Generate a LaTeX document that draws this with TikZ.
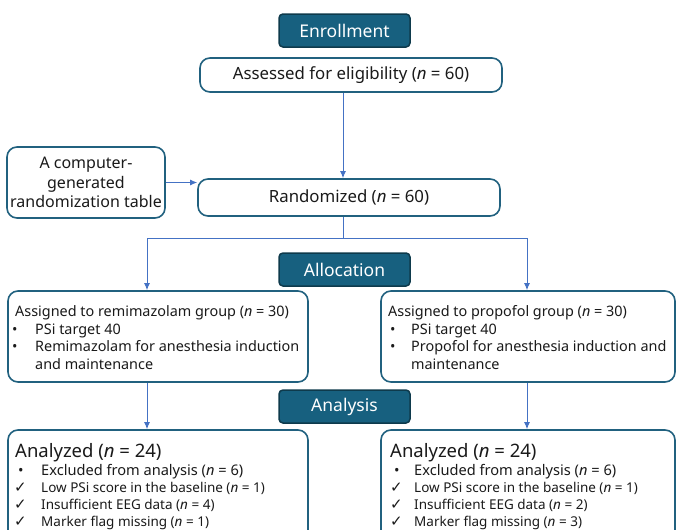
\documentclass[tikz,border=0pt]{standalone}
\usepackage{fontspec}
\setmainfont{Noto Sans}
\newfontfamily\sym{DejaVu Sans}
\usetikzlibrary{arrows.meta}
\definecolor{hdrfill}{HTML}{17607F}
\definecolor{hdrborder}{HTML}{0E3A4C}
\definecolor{boxc}{HTML}{21617F}
\definecolor{arrc}{HTML}{4472C4}
\definecolor{txt}{HTML}{1A1A1A}
\begin{document}
\begin{tikzpicture}[x=1pt,y=-1pt,
  hdr/.style={draw=hdrborder, fill=hdrfill, rounded corners=4pt, line width=1.5pt, text=white,
    font=\fontsize{17.5}{20}\selectfont, minimum width=131pt, minimum height=33pt, inner sep=0pt},
  box/.style={draw=boxc, line width=1.6pt, rounded corners=10pt, fill=white, inner sep=0pt},
  arr/.style={draw=arrc, line width=1pt, -{Latex[length=7pt,width=6pt]}},
  ln/.style={draw=arrc, line width=1pt},
  tx/.style={anchor=base west, inner sep=0pt, text=txt, font=\fontsize{14.4}{17}\selectfont},
  tb/.style={anchor=base west, inner sep=0pt, text=txt, font=\fontsize{18.5}{21}\selectfont},
  tc/.style={anchor=base west, inner sep=0pt, text=txt, font=\fontsize{14.6}{17}\selectfont},
  ts/.style={anchor=base west, inner sep=0pt, text=txt, font=\fontsize{13.5}{16}\selectfont},
  ck/.style={anchor=base west, inner sep=0pt, text=txt, font=\sym\fontsize{15}{16}\selectfont},
  ]
\useasboundingbox (0,0) rectangle (678,530);

% headers
\node[hdr] (enr) at (344.5,30.5) {Enrollment};
\node[hdr] (alloc) at (344.5,269.5) {Allocation};
\node[hdr] (anal) at (344.5,406.5) {Analysis};

% boxes
\node[box, minimum width=302pt, minimum height=34pt, font=\fontsize{16.8}{20}\selectfont, text=txt] (assess) at (351,75) {Assessed for eligibility (\textit{n} = 60)};
\node[box, minimum width=302pt, minimum height=37pt, font=\fontsize{16.8}{20}\selectfont, text=txt] (rand) at (349,197.5) {Randomized (\textit{n} = 60)};
\node[box, minimum width=158pt, minimum height=71pt, align=center, font=\fontsize{16}{19.5}\selectfont, text=txt] (comp) at (86,182.5) {A computer-\\generated\\randomization table};

\node[box, minimum width=300pt, minimum height=91pt] (lassign) at (158,336.5) {};
\node[box, minimum width=294pt, minimum height=91pt] (rassign) at (528,336.5) {};
\node[box, minimum width=300pt, minimum height=110pt] (lanal) at (158,485) {};
\node[box, minimum width=294pt, minimum height=110pt] (ranal) at (528,485) {};

% connectors
\draw[arr] (assess.south -| 343,0) -- (rand.north -| 343,0);
\draw[arr] (comp.east) -- (rand.west |- comp.east);
\coordinate (split) at (343,238);
\coordinate (lsplit) at (147,238);
\coordinate (rsplit) at (527,238);
\draw[ln] (rand.south -| split) -- (split);
\draw[ln] (lsplit) -- (rsplit);
\draw[arr] (lsplit) -- (lassign.north -| lsplit);
\draw[arr] (rsplit) -- (rassign.north -| rsplit);
\draw[arr] (lassign.south -| lsplit) -- (lanal.north -| lsplit);
\draw[arr] (rassign.south -| rsplit) -- (ranal.north -| rsplit);

% left assign text
\node[tx] (la1) at (15,316) {Assigned to remimazolam group (\textit{n} = 30)};
\node[tx] (la2b) at (12,334) {•};
\node[tx] (la2) at (35,334) {PSi target 40};
\node[tx] (la3b) at (12,351) {•};
\node[tx] (la3) at (35,351) {Remimazolam for anesthesia induction};
\node[tx] (la4) at (35,369) {and maintenance};

% right assign text
\node[tx] (ra1) at (388,316) {Assigned to propofol group (\textit{n} = 30)};
\node[tx] (ra2b) at (390,334) {•};
\node[tx] (ra2) at (411,334) {PSi target 40};
\node[tx] (ra3b) at (390,351) {•};
\node[tx] (ra3) at (411,351) {Propofol for anesthesia induction and};
\node[tx] (ra4) at (411,369) {maintenance};

% left analysis text
\node[tb] (lb1) at (15,457) {Analyzed (\textit{n} = 24)};
\node[tc] (lb2b) at (18,475) {•};
\node[tc] (lb2) at (41,475) {Excluded from analysis (\textit{n} = 6)};
\node[ck] (lb3b) at (14,492) {✓};
\node[ts] (lb3) at (41,492) {Low PSi score in the baseline (\textit{n} = 1)};
\node[ck] (lb4b) at (14,509) {✓};
\node[ts] (lb4) at (41,509) {Insufficient EEG data (\textit{n} = 4)};
\node[ck] (lb5b) at (14,526) {✓};
\node[ts] (lb5) at (41,526) {Marker flag missing (\textit{n} = 1)};

% right analysis text
\node[tb] (rb1) at (390,457) {Analyzed (\textit{n} = 24)};
\node[tc] (rb2b) at (394,475) {•};
\node[tc] (rb2) at (414,475) {Excluded from analysis (\textit{n} = 6)};
\node[ck] (rb3b) at (390,492) {✓};
\node[ts] (rb3) at (414,492) {Low PSi score in the baseline (\textit{n} = 1)};
\node[ck] (rb4b) at (390,509) {✓};
\node[ts] (rb4) at (414,509) {Insufficient EEG data (\textit{n} = 2)};
\node[ck] (rb5b) at (390,526) {✓};
\node[ts] (rb5) at (414,526) {Marker flag missing (\textit{n} = 3)};
\end{tikzpicture}
\end{document}
